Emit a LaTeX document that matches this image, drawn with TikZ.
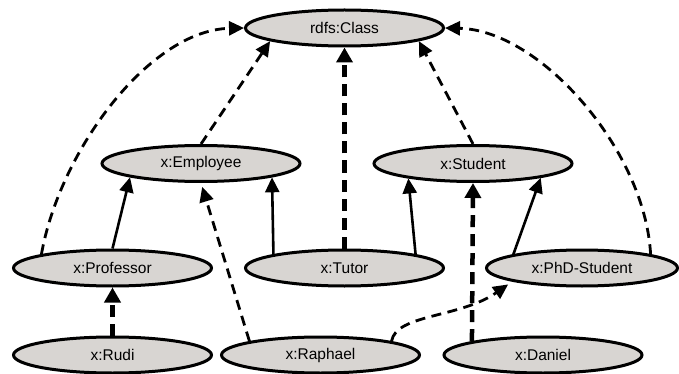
\documentclass[tikz,border=0pt]{standalone}
\usepackage{fontspec}
\setmainfont{Liberation Sans}
\usetikzlibrary{shapes.geometric,arrows.meta}
\definecolor{nodefill}{RGB}{216,213,210}
\tikzset{
  cls/.style={ellipse, draw=black, line width=3pt, fill=nodefill,
    minimum width=198pt, minimum height=36pt, inner sep=0pt,
    font=\fontsize{15.5}{18}\selectfont},
  sub/.style={line width=2.6pt, -{Triangle[length=15pt,width=14pt]}},
  typ/.style={line width=2.8pt, dash pattern=on 10pt off 6.5pt, -{Triangle[length=15pt,width=14pt]}},
  typthick/.style={line width=4.5pt, dash pattern=on 12pt off 7pt, -{Triangle[length=15pt,width=16pt]}},
}
\begin{document}
\begin{tikzpicture}[x=1pt,y=-1pt]
\useasboundingbox (0,0) rectangle (679,374);
\node[cls] (class) at (344.5,28) {rdfs:Class};
\node[cls] (emp) at (201,163.5) {x:Employee};
\node[cls] (student) at (473,163.5) {x:Student};
\node[cls] (prof) at (112.5,268) {x:Professor};
\node[cls] (tutor) at (344.5,268) {x:Tutor};
\node[cls, minimum width=191pt] (phd) at (582,268) {x:PhD-Student};
\node[cls] (rudi) at (112.5,355) {x:Rudi};
\node[cls] (raphael) at (320.5,355) {x:Raphael};
\node[cls] (daniel) at (543,355) {x:Daniel};

% dashed typing to rdfs:Class
\draw[typ] (emp.north) -- (class.190);
\draw[typ] (student.north) -- (class.350);
\draw[typthick] (tutor.north) -- (class.south);
\draw[typ] (prof.north west) .. controls (60,150) and (150,30) .. (class.west);
\draw[typ] (phd.north east) .. controls (645,150) and (540,30) .. (class.east);

% subclass
\draw[sub] (prof.north) -- (emp.191);
\draw[sub] (tutor.north west) -- (emp.349);
\draw[sub] (tutor.north east) -- (student.193);
\draw[sub] (phd.north west) -- (student.348);

% instances
\draw[typthick] (rudi.north) -- (prof.south);
\draw[typ, shorten >=4pt] (raphael.north west) -- (emp.south);
\draw[typ, shorten >=5pt] (raphael.north east) .. controls (396,314) and (460,318) .. (phd.191);
\draw[typthick] (daniel.north west) -- (student.south);
\end{tikzpicture}
\end{document}
